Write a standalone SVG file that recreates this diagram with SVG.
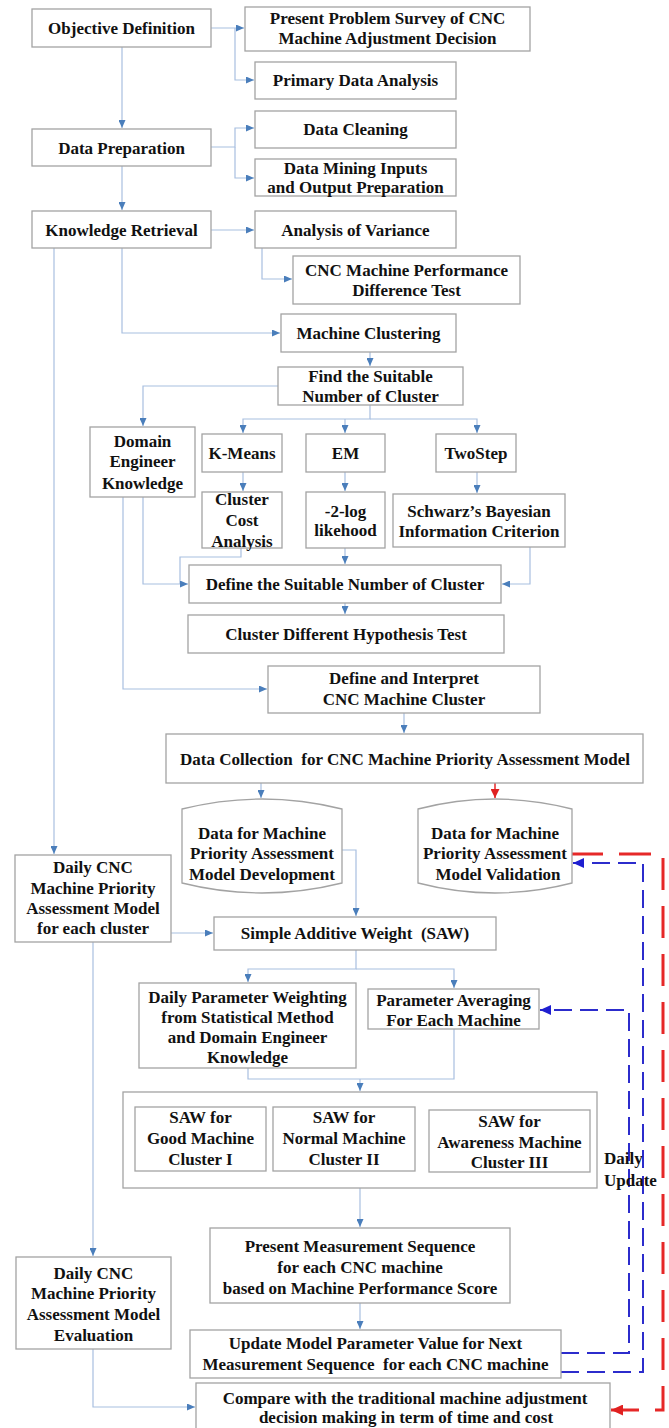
<svg xmlns="http://www.w3.org/2000/svg" width="669" height="1428" viewBox="0 0 669 1428">
<style>
.b{fill:#fff;stroke:#a3a3a3;stroke-width:1.3}
.t{font-family:"Liberation Serif","Times New Roman",serif;font-weight:bold;font-size:17px;text-anchor:middle;fill:#111}
.c{fill:none;stroke:#a8bfe0;stroke-width:1.2}
.bd{fill:none;stroke:#2c2ccc;stroke-width:2;stroke-dasharray:18 8}
.rd{fill:none;stroke:#e62828;stroke-width:3;stroke-dasharray:32 16}
</style>
<defs>
<marker id="ab" markerUnits="userSpaceOnUse" markerWidth="8" markerHeight="7" refX="8" refY="3.5" orient="auto"><path d="M0,0 L8,3.5 L0,7 z" fill="#4a7ebb"/></marker>
<marker id="abd" markerUnits="userSpaceOnUse" markerWidth="11" markerHeight="10" refX="11" refY="5" orient="auto"><path d="M0,0 L11,5 L0,10 z" fill="#1f1fd0"/></marker>
<marker id="ard" markerUnits="userSpaceOnUse" markerWidth="12" markerHeight="11" refX="12" refY="5.5" orient="auto"><path d="M0,0 L12,5.5 L0,11 z" fill="#e02020"/></marker>
<marker id="ars" markerUnits="userSpaceOnUse" markerWidth="9" markerHeight="9" refX="9" refY="4.5" orient="auto"><path d="M0,0 L9,4.5 L0,9 z" fill="#e02020"/></marker>
</defs>
<rect width="669" height="1428" fill="#fff"/>

<g id="connectors">
<path class="c" d="M211,28 H244" marker-end="url(#ab)"/>
<path class="c" d="M235,28 V80 H254" marker-end="url(#ab)"/>
<path class="c" d="M122,47 V128" marker-end="url(#ab)"/>
<path class="c" d="M211,147 H235 V128 H254" marker-end="url(#ab)"/>
<path class="c" d="M235,147 V178 H254" marker-end="url(#ab)"/>
<path class="c" d="M122,166 V210" marker-end="url(#ab)"/>
<path class="c" d="M211,230 H254" marker-end="url(#ab)"/>
<path class="c" d="M262,248 V279 H292" marker-end="url(#ab)"/>
<path class="c" d="M122,248 V333 H280" marker-end="url(#ab)"/>
<path class="c" d="M370,352 V366" marker-end="url(#ab)"/>
<path class="c" d="M278,386 H143 V426" marker-end="url(#ab)"/>
<path class="c" d="M370,405 V419 H243 V433" marker-end="url(#ab)"/>
<path class="c" d="M370,419 H477 V433" marker-end="url(#ab)"/>
<path class="c" d="M345,419 V433" marker-end="url(#ab)"/>
<path class="c" d="M243,472 V491" marker-end="url(#ab)"/>
<path class="c" d="M345,472 V491" marker-end="url(#ab)"/>
<path class="c" d="M477,472 V493" marker-end="url(#ab)"/>
<path class="c" d="M241,548 V557 H180 V584"/>
<path class="c" d="M143,497 V584 H188" marker-end="url(#ab)"/>
<path class="c" d="M345,548 V564" marker-end="url(#ab)"/>
<path class="c" d="M530,547 V584 H502" marker-end="url(#ab)"/>
<path class="c" d="M345,603 V614" marker-end="url(#ab)"/>
<path class="c" d="M123,497 V689 H267" marker-end="url(#ab)"/>
<path class="c" d="M404,713 V733" marker-end="url(#ab)"/>
<path class="c" d="M261,783 V798" marker-end="url(#ab)"/>
<path fill="none" stroke="#e62828" stroke-width="1.5" d="M495,783 V798" marker-end="url(#ars)"/>
<path class="c" d="M342,850 H356 V916" marker-end="url(#ab)"/>
<path class="c" d="M54,248 V854" marker-end="url(#ab)"/>
<path class="c" d="M171,933 H213" marker-end="url(#ab)"/>
<path class="c" d="M356,950 V969 H248 V982" marker-end="url(#ab)"/>
<path class="c" d="M356,969 H454 V988" marker-end="url(#ab)"/>
<path class="c" d="M248,1068 V1079 H454 V1029"/>
<path class="c" d="M360,1079 V1091" marker-end="url(#ab)"/>
<path class="c" d="M360,1188 V1227" marker-end="url(#ab)"/>
<path class="c" d="M360,1303 V1329" marker-end="url(#ab)"/>
<path class="c" d="M93,942 V1256" marker-end="url(#ab)"/>
<path class="c" d="M93,1349 V1407 H195" marker-end="url(#ab)"/>
<path class="bd" d="M561,1353 H629 V1010 H540" marker-end="url(#abd)"/>
<path class="bd" d="M561,1372 H643 V863 H573" marker-end="url(#abd)"/>
<path class="rd" d="M571,854 H663 V1410 H611" marker-end="url(#ard)"/>
</g>

<g id="objective-definition"><rect class="b" x="32" y="9" width="179" height="38"/><text class="t" x="121.5" y="34">Objective Definition</text></g>
<g id="present-problem"><rect class="b" x="245" y="7" width="285" height="44"/><text class="t" x="387.5" y="24">Present Problem Survey of CNC</text><text class="t" x="387.5" y="44">Machine Adjustment Decision</text></g>
<g id="primary-data"><rect class="b" x="255" y="62" width="201" height="37"/><text class="t" x="355.5" y="86">Primary Data Analysis</text></g>
<g id="data-preparation"><rect class="b" x="32" y="129" width="179" height="37"/><text class="t" x="121.5" y="154">Data Preparation</text></g>
<g id="data-cleaning"><rect class="b" x="255" y="111" width="201" height="37"/><text class="t" x="355.5" y="135">Data Cleaning</text></g>
<g id="data-mining"><rect class="b" x="255" y="159" width="201" height="37"/><text class="t" x="355.5" y="174">Data Mining Inputs</text><text class="t" x="355.5" y="193">and Output Preparation</text></g>
<g id="knowledge-retrieval"><rect class="b" x="32" y="211" width="179" height="37"/><text class="t" x="121.5" y="236">Knowledge Retrieval</text></g>
<g id="anova"><rect class="b" x="255" y="211" width="201" height="37"/><text class="t" x="355.5" y="236">Analysis of Variance</text></g>
<g id="perf-test"><rect class="b" x="293" y="256" width="227" height="48"/><text class="t" x="406.5" y="276">CNC Machine Performance</text><text class="t" x="406.5" y="296">Difference Test</text></g>
<g id="machine-clustering"><rect class="b" x="281" y="314" width="175" height="38"/><text class="t" x="368.5" y="339">Machine Clustering</text></g>
<g id="find-number"><rect class="b" x="278" y="367" width="185" height="38"/><text class="t" x="370.5" y="382">Find the Suitable</text><text class="t" x="370.5" y="402">Number of Cluster</text></g>
<g id="domain-engineer"><rect class="b" x="90" y="427" width="105" height="70"/><text class="t" x="142.5" y="447">Domain</text><text class="t" x="142.5" y="467">Engineer</text><text class="t" x="142.5" y="489">Knowledge</text></g>
<g id="kmeans"><rect class="b" x="202" y="434" width="80" height="38"/><text class="t" x="242" y="459">K-Means</text></g>
<g id="em"><rect class="b" x="306" y="434" width="79" height="38"/><text class="t" x="345.5" y="459">EM</text></g>
<g id="twostep"><rect class="b" x="436" y="434" width="80" height="38"/><text class="t" x="476" y="459">TwoStep</text></g>
<g id="cluster-cost"><rect class="b" x="202" y="492" width="80" height="56"/><text class="t" x="242" y="505">Cluster</text><text class="t" x="242" y="526">Cost</text><text class="t" x="242" y="547">Analysis</text></g>
<g id="log-likehood"><rect class="b" x="306" y="492" width="79" height="56"/><text class="t" x="345.5" y="517">-2-log</text><text class="t" x="345.5" y="536">likehood</text></g>
<g id="schwarz"><rect class="b" x="393" y="494" width="172" height="53"/><text class="t" x="479" y="517">Schwarz’s Bayesian</text><text class="t" x="479" y="537">Information Criterion</text></g>
<g id="define-number"><rect class="b" x="189" y="565" width="312" height="38"/><text class="t" x="345" y="590">Define the Suitable Number of Cluster</text></g>
<g id="hypothesis-test"><rect class="b" x="188" y="615" width="316" height="38"/><text class="t" x="346" y="640">Cluster Different Hypothesis Test</text></g>
<g id="define-interpret"><rect class="b" x="268" y="666" width="272" height="47"/><text class="t" x="404" y="684">Define and Interpret</text><text class="t" x="404" y="705">CNC Machine Cluster</text></g>
<g id="data-collection"><rect class="b" x="166" y="734" width="477" height="49"/><text class="t" x="405" y="765" xml:space="preserve">Data Collection  for CNC Machine Priority Assessment Model</text></g>
<g id="data-development"><path class="b" d="M182,809 Q262,789 342,809 V883 Q262,903 182,883 Z"/><text class="t" x="262" y="839">Data for Machine</text><text class="t" x="262" y="859">Priority Assessment</text><text class="t" x="262" y="880">Model Development</text></g>
<g id="data-validation"><path class="b" d="M418,809 Q495,789 572,809 V883 Q495,903 418,883 Z"/><text class="t" x="495" y="839">Data for Machine</text><text class="t" x="495" y="859">Priority Assessment</text><text class="t" x="498" y="880">Model Validation</text></g>
<g id="daily-model"><rect class="b" x="15" y="855" width="156" height="87"/><text class="t" x="93" y="873">Daily CNC</text><text class="t" x="93" y="894">Machine Priority</text><text class="t" x="93" y="914">Assessment Model</text><text class="t" x="93" y="934">for each cluster</text></g>
<g id="saw"><rect class="b" x="214" y="917" width="282" height="33"/><text class="t" x="355" y="939" xml:space="preserve">Simple Additive Weight  (SAW)</text></g>
<g id="parameter-weighting"><rect class="b" x="139" y="983" width="217" height="85"/><text class="t" x="247.5" y="1003">Daily Parameter Weighting</text><text class="t" x="247.5" y="1023">from Statistical Method</text><text class="t" x="247.5" y="1043">and Domain Engineer</text><text class="t" x="247.5" y="1063">Knowledge</text></g>
<g id="parameter-averaging"><rect class="b" x="368" y="989" width="171" height="40"/><text class="t" x="453.5" y="1006">Parameter Averaging</text><text class="t" x="453.5" y="1026">For Each Machine</text></g>
<g id="saw-group"><rect class="b" x="123" y="1092" width="474" height="96"/>
<rect class="b" x="135" y="1107" width="131" height="64"/><text class="t" x="200.5" y="1123">SAW for</text><text class="t" x="200.5" y="1144">Good Machine</text><text class="t" x="200.5" y="1165">Cluster I</text>
<rect class="b" x="273" y="1107" width="142" height="64"/><text class="t" x="344" y="1123">SAW for</text><text class="t" x="344" y="1144">Normal Machine</text><text class="t" x="344" y="1165">Cluster II</text>
<rect class="b" x="429" y="1110" width="161" height="62"/><text class="t" x="509.5" y="1127">SAW for</text><text class="t" x="509.5" y="1148">Awareness Machine</text><text class="t" x="509.5" y="1168">Cluster III</text></g>
<g id="daily-update-label"><text class="t" x="604" y="1164" style="text-anchor:start">Daily</text><text class="t" x="604" y="1186" style="text-anchor:start">Update</text></g>
<g id="present-sequence"><rect class="b" x="210" y="1228" width="300" height="75"/><text class="t" x="360" y="1252">Present Measurement Sequence</text><text class="t" x="360" y="1273">for each CNC machine</text><text class="t" x="360" y="1294">based on Machine Performance Score</text></g>
<g id="daily-evaluation"><rect class="b" x="16" y="1257" width="155" height="92"/><text class="t" x="93.5" y="1279">Daily CNC</text><text class="t" x="93.5" y="1299">Machine Priority</text><text class="t" x="93.5" y="1320">Assessment Model</text><text class="t" x="93.5" y="1341">Evaluation</text></g>
<g id="update-model"><rect class="b" x="190" y="1330" width="371" height="48"/><text class="t" x="375.5" y="1349">Update Model Parameter Value for Next</text><text class="t" x="375.5" y="1370" xml:space="preserve">Measurement Sequence  for each CNC machine</text></g>
<g id="compare"><rect class="b" x="196" y="1383" width="414" height="50"/><text class="t" x="405" y="1404">Compare with the traditional machine adjustment</text><text class="t" x="406" y="1423">decision making in term of time and cost</text></g>
</svg>
